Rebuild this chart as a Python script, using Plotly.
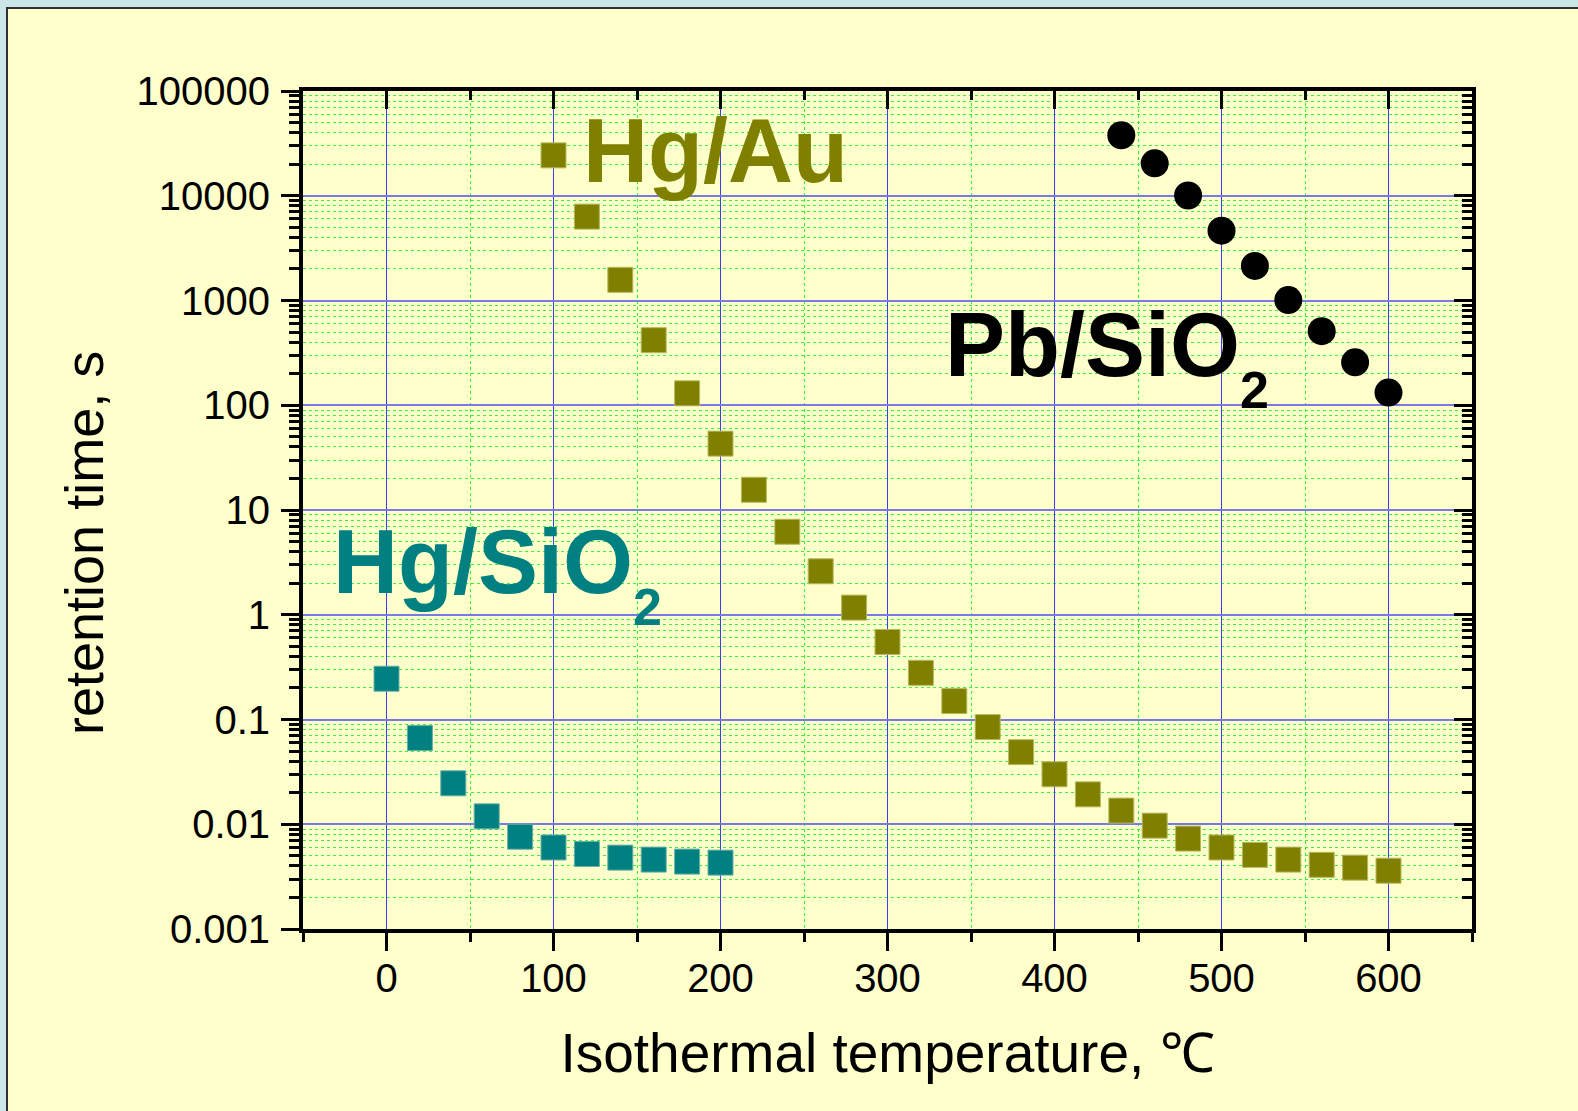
import plotly.graph_objects as go

# Data
hg_sio2_T = [0, 20, 40, 60, 80, 100, 120, 140, 160, 180, 200]
hg_sio2_t = [0.245, 0.0665, 0.0246, 0.0119, 0.0076, 0.0060, 0.0052, 0.0048, 0.0046, 0.0044, 0.0043]

hg_au_T = [100, 120, 140, 160, 180, 200, 220, 240, 260, 280, 300, 320, 340, 360, 380,
           400, 420, 440, 460, 480, 500, 520, 540, 560, 580, 600]
hg_au_t = [24300, 6320, 1575, 418, 130, 43, 15.6, 6.2, 2.6, 1.17, 0.55, 0.279, 0.150,
           0.0847, 0.0488, 0.030, 0.0193, 0.0135, 0.0097, 0.0073, 0.0060, 0.0051, 0.0046,
           0.0041, 0.00385, 0.0036]

pb_sio2_T = [440, 460, 480, 500, 520, 540, 560, 580, 600]
pb_sio2_t = [37800, 20400, 10050, 4640, 2140, 1010, 510, 257, 132]

x_tickvals = [0, 100, 200, 300, 400, 500, 600]
y_tickvals = [0.001, 0.01, 0.1, 1, 10, 100, 1000, 10000, 100000]
y_ticktext = ["0.001", "0.01", "0.1", "1", "10", "100", "1000", "10000", "100000"]

W, H = 1578, 1111
L, R, T, B = 303, 106, 91, 182
pw = W - L - R
ph = H - T - B

OLIVE = "#808000"
TEAL = "#008080"
BG = "#FFFFCC"
OUTER = "#CCE6E8"

fig = go.Figure()
fig.add_trace(go.Scatter(x=hg_sio2_T, y=hg_sio2_t, mode="markers",
                         marker=dict(symbol="square", size=25, color=TEAL,
                                     line=dict(color="#66b0a8", width=1)),
                         showlegend=False))
fig.add_trace(go.Scatter(x=hg_au_T, y=hg_au_t, mode="markers",
                         marker=dict(symbol="square", size=25, color=OLIVE,
                                     line=dict(color="#b8b860", width=1)),
                         showlegend=False))
fig.add_trace(go.Scatter(x=pb_sio2_T, y=pb_sio2_t, mode="markers",
                         marker=dict(symbol="circle", size=28, color="black",
                                     line=dict(width=0)),
                         showlegend=False))
# invisible trace to host mirrored inside-tick axes
fig.add_trace(go.Scatter(x=[None], y=[None], xaxis="x2", yaxis="y2",
                         mode="markers", showlegend=False, hoverinfo="skip"))

font_family = "Liberation Sans, Arial, sans-serif"

fig.update_layout(
    width=W, height=H,
    margin=dict(l=L, r=R, t=T, b=B, pad=0),
    paper_bgcolor=OUTER,
    plot_bgcolor=BG,
    font=dict(family=font_family, color="black"),
    xaxis=dict(
        range=[-50, 650], tickvals=x_tickvals, ticks="outside", ticklen=18,
        tickwidth=3, tickcolor="black", showline=True, linewidth=4,
        linecolor="black", mirror=True, zeroline=False,
        showgrid=True, gridcolor="#3c3cff", gridwidth=1,
        tickfont=dict(size=40, family=font_family), ticklabelstandoff=-7,
        minor=dict(dtick=50, tick0=0, ticks="outside", ticklen=9, tickwidth=3,
                   tickcolor="black", showgrid=True, gridcolor="#33ee33",
                   griddash="dot", gridwidth=1),
        title=dict(text="Isothermal temperature, \u2103",
                   font=dict(size=55, family=font_family), standoff=35),
    ),
    yaxis=dict(
        type="log", range=[-3, 5], tickvals=y_tickvals, ticktext=y_ticktext,
        ticks="outside", ticklen=18, tickwidth=3, tickcolor="black",
        showline=True, linewidth=4, linecolor="black", mirror=True,
        zeroline=False, showgrid=True, gridcolor="#7a7ae6", gridwidth=2,
        tickfont=dict(size=40, family=font_family), ticklabelstandoff=3,
        minor=dict(dtick="D1", ticks="outside", ticklen=10, tickwidth=3, tickcolor="black",
                   showgrid=True, gridcolor="#40f040", griddash="dot", gridwidth=1),
    ),
    xaxis2=dict(
        overlaying="x", side="top", anchor="y2", range=[-50, 650],
        tickvals=x_tickvals, ticks="inside", ticklen=18, tickwidth=3,
        tickcolor="black", showticklabels=False, showgrid=False,
        showline=False, zeroline=False,
        minor=dict(dtick=50, tick0=0, ticks="inside", ticklen=9, tickwidth=3,
                   tickcolor="black", showgrid=False),
    ),
    yaxis2=dict(
        overlaying="y", side="right", anchor="x2", type="log", range=[-3, 5],
        tickvals=y_tickvals, ticks="inside", ticklen=18, tickwidth=3,
        tickcolor="black", showticklabels=False, showgrid=False,
        showline=False, zeroline=False,
        minor=dict(dtick="D1", ticks="inside", ticklen=10, tickwidth=3, tickcolor="black",
                   showgrid=False),
    ),
)

# Y-axis title (placed as annotation, slightly below plot centre as in the original)
fig.add_annotation(x=(84 - L) / pw, y=1 - (543 - T) / ph, xref="paper", yref="paper",
                   xanchor="center", yanchor="middle", textangle=-90,
                   text="retention time, s", showarrow=False,
                   font=dict(size=54, family=font_family, color="black"))

# Yellow panel with dark border (top & left), extending to right/bottom edges
x0 = (7 - L) / pw
x1 = (W + 5 - L) / pw
y1 = (H - 8 - B) / ph
y0 = (-5 - B) / ph
fig.add_shape(type="rect", xref="paper", yref="paper", x0=x0, x1=x1, y0=y0, y1=y1,
              fillcolor=BG, line=dict(color="#303030", width=2), layer="below")

ann_font = dict(family=font_family, size=90)
sub2 = "<sub><sub><span style='font-size:52px'>2</span></sub></sub>"
fig.add_annotation(x=116.5, y=4.43, xref="x", yref="y", xanchor="left", yanchor="middle",
                   text="<b>Hg/Au</b>", showarrow=False,
                   font=dict(**ann_font, color=OLIVE))
fig.add_annotation(x=333.5, y=2.46, xref="x", yref="y", xanchor="left", yanchor="middle",
                   text="<b>Pb/SiO" + sub2 + "</b>",
                   showarrow=False, font=dict(**ann_font, color="black"))
fig.add_annotation(x=-33, y=0.385, xref="x", yref="y", xanchor="left", yanchor="middle",
                   text="<b>Hg/SiO" + sub2 + "</b>",
                   showarrow=False, font=dict(**ann_font, color=TEAL))

fig.write_html("out.html",
               config={"displayModeBar": False},
               post_script="document.body.style.margin='0';"
                           "document.body.style.background='" + OUTER + "';"
                           "document.body.style.overflow='hidden';")
